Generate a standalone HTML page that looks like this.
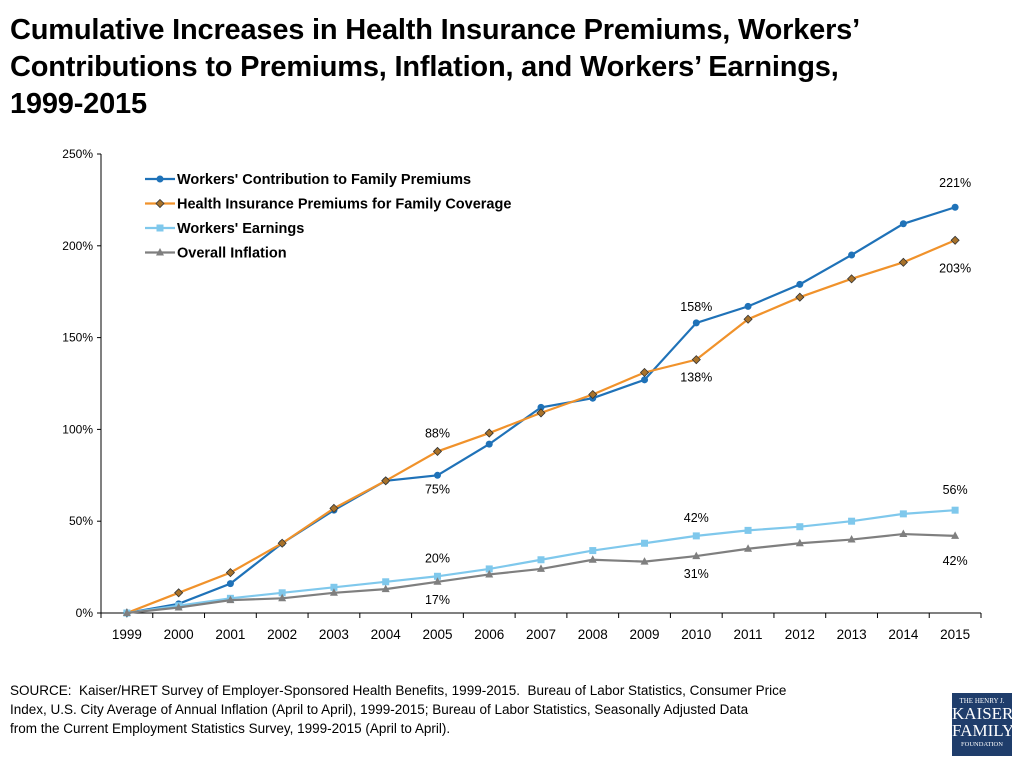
<!DOCTYPE html>
<html><head><meta charset="utf-8"><style>
body{margin:0;width:1024px;height:768px;background:#fff;font-family:"Liberation Sans",Calibri,sans-serif;overflow:hidden;position:relative}
#title{position:absolute;left:10px;top:12px;font-size:29px;font-weight:bold;line-height:37px;color:#000;width:1014px;white-space:nowrap;letter-spacing:-0.2px}
#source{position:absolute;left:10px;top:681px;font-size:13.5px;line-height:19px;color:#000}
#logo{position:absolute;left:952px;top:693px;width:60px;height:63px;background:#1f3d6b;color:#fff;font-family:"Liberation Serif",serif;text-align:center}
</style></head><body>
<div id="title">Cumulative Increases in Health Insurance Premiums, Workers’<br>Contributions to Premiums, Inflation, and Workers’ Earnings,<br>1999-2015</div>
<svg id="chart" width="1024" height="768" style="position:absolute;left:0;top:0" font-family="Liberation Sans, sans-serif"></svg>
<div id="source">SOURCE:&nbsp; Kaiser/HRET Survey of Employer-Sponsored Health Benefits, 1999-2015.&nbsp; Bureau of Labor Statistics, Consumer Price<br>Index, U.S. City Average of Annual Inflation (April to April), 1999-2015; Bureau of Labor Statistics, Seasonally Adjusted Data<br>from the Current Employment Statistics Survey, 1999-2015 (April to April).</div>
<div id="logo"><div style="font-size:7px;margin-top:4px">THE HENRY J.</div><div style="font-size:17px;line-height:17px">KAISER</div><div style="font-size:17px;line-height:17px">FAMILY</div><div style="font-size:6.5px;margin-top:2px">FOUNDATION</div></div>
<script>
const years=["1999","2000","2001","2002","2003","2004","2005","2006","2007","2008","2009","2010","2011","2012","2013","2014","2015"];
const contrib=[0,5,16,38,56,72,75,92,112,117,127,158,167,179,195,212,221];
const premiums=[0,11,22,38,57,72,88,98,109,119,131,138,160,172,182,191,203];
const earnings=[0,4,8,11,14,17,20,24,29,34,38,42,45,47,50,54,56];
const inflation=[0,3,7,8,11,13,17,21,24,29,28,31,35,38,40,43,42];
const yTicks=[0,50,100,150,200,250];
const seriesNames=["Workers' Contribution to Family Premiums","Health Insurance Premiums for Family Coverage","Workers' Earnings","Overall Inflation"];
const svg=document.getElementById('chart');const NS='http://www.w3.org/2000/svg';
const L=101,R=981,T=154,B=613,step=(R-L)/years.length;
const x=i=>L+step*(i+0.5), y=v=>B-(v/250)*(B-T);
function mk(tag,a,p){const e=document.createElementNS(NS,tag);for(const k in a)e.setAttribute(k,a[k]);(p||svg).appendChild(e);return e;}
let e=mk('line',{x1:L,y1:T,x2:L,y2:B,stroke:'#000','stroke-width':1});

e=mk('line',{x1:L,y1:B,x2:R,y2:B,stroke:'#000','stroke-width':1});

yTicks.forEach(v=>{mk('line',{x1:L-4,y1:y(v),x2:L,y2:y(v),stroke:'#000'});
 const t=mk('text',{x:L-8,y:y(v)+4,'font-size':12,'text-anchor':'end'});t.textContent=v+'%';
 });
for(let i=0;i<=years.length;i++)mk('line',{x1:L+step*i,y1:B,x2:L+step*i,y2:B+5,stroke:'#000'});
years.forEach((yr,i)=>{const t=mk('text',{x:x(i),y:B+26,'font-size':13.5,'text-anchor':'middle'});t.textContent=yr;
 });
const series=[[contrib,'#1f72b8','circle'],[premiums,'#f0922b','diamond'],[earnings,'#7fc8ec','square'],[inflation,'#7f7f7f','triangle']];
function marker(type,cx,cy,col,g){
 if(type==='circle')return mk('circle',{cx,cy,r:3.5,fill:col},g);
 if(type==='diamond')return mk('polygon',{points:`${cx},${cy-4} ${cx+4},${cy} ${cx},${cy+4} ${cx-4},${cy}`,fill:'#a8722a',stroke:'#333','stroke-width':0.8},g);
 if(type==='square')return mk('rect',{x:cx-3.5,y:cy-3.5,width:7,height:7,fill:col},g);
 return mk('polygon',{points:`${cx},${cy-4.5} ${cx+4},${cy+3} ${cx-4},${cy+3}`,fill:col},g);}
series.forEach(([d,col,m],si)=>{
 const g=mk('g',{});
 mk('polyline',{points:d.map((v,i)=>x(i)+','+y(v)).join(' '),fill:'none',stroke:col,'stroke-width':2.2},g);
 d.forEach((v,i)=>{const p=marker(m,x(i),y(v),col,g);});
 const ly=179+si*24.5;
 const lg=mk('g',{});
 mk('line',{x1:145,y1:ly,x2:175,y2:ly,stroke:col,'stroke-width':2.2},lg);marker(m,160,ly,col,lg);
 const t=mk('text',{x:177,y:ly+5,'font-size':14.5,'font-weight':'bold'},lg);t.textContent=seriesNames[si];});
const labels=[[contrib,6,18],[premiums,6,-14],[contrib,11,-12],[premiums,11,22],[contrib,16,-20],[premiums,16,32],[earnings,6,-14],[inflation,6,22],[earnings,11,-14],[inflation,11,22],[earnings,16,-16],[inflation,16,29]];
labels.forEach(([d,i,dy])=>{const t=mk('text',{x:x(i),y:y(d[i])+dy,'font-size':12.5,'text-anchor':'middle'});t.textContent=d[i]+'%';
 });
</script>
</body></html>
